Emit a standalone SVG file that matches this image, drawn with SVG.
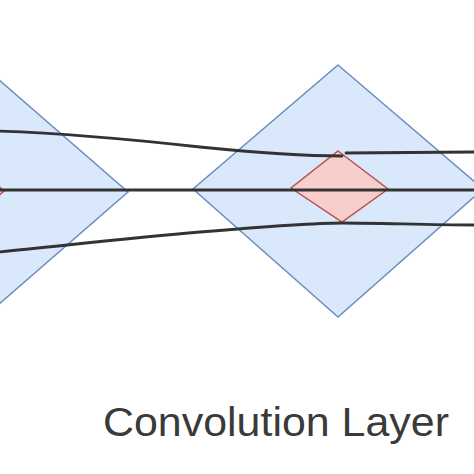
<svg xmlns="http://www.w3.org/2000/svg" width="474" height="474" viewBox="0 0 474 474">
<style>
.blue{fill:#dae8fc;stroke:#6c8ebf;stroke-width:1.5}
.red{fill:#f8cecc;stroke:#b85450;stroke-width:1.5}
.edge{fill:none;stroke:#333;stroke-width:2.8;stroke-linecap:round}
.label{font-family:"Liberation Sans",Arial,sans-serif;font-size:41px;fill:#3a3a3a}
</style>
<rect width="474" height="474" fill="#fff"/>
<g id="left-layer">
<polygon class="blue" points="-17,66 128,192 -17,318 -162,192"/>
<polygon class="red" points="-20,170 4,191 -20,212 -44,191"/>
</g>
<g id="conv-layer">
<polygon class="blue" points="338,65 483,189 338,317 193,189"/>
</g>
<g id="kernel">
<polygon class="red" points="338,151 388,189 342,222 291,188"/>
</g>
<g id="connectors">
<path class="edge" d="M-2,131 C60,133 120,138 200,147 C260,153 310,156 342,156"/>
<path class="edge" d="M346,153 L476,152"/>
<path class="edge" d="M-2,190 L476,190"/>
<path class="edge" d="M-2,252 C60,246 130,238 200,232 C260,227 310,223 342,223 C380,223 430,225 476,225"/>
</g>
<text class="label" x="276" y="436" text-anchor="middle" textLength="346" lengthAdjust="spacingAndGlyphs">Convolution Layer</text>
</svg>
